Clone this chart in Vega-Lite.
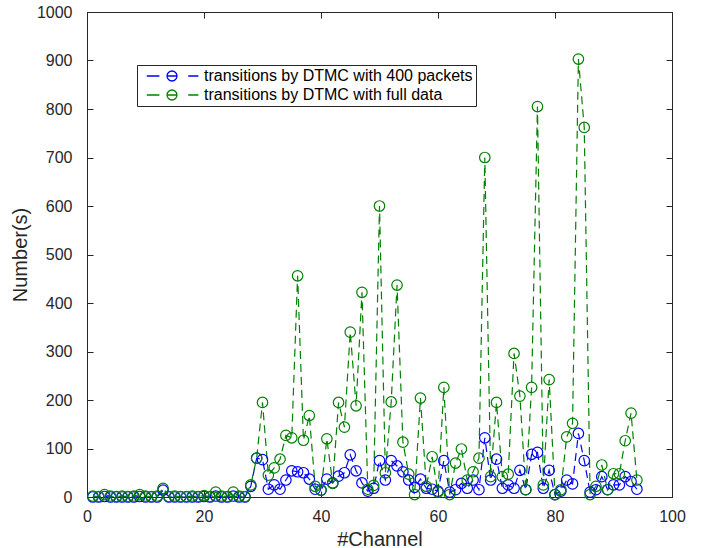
{
  "$schema": "https://vega.github.io/schema/vega-lite/v6.json",
  "autosize": "none",
  "padding": {"left": 87, "top": 12, "right": 32, "bottom": 51},
  "width": 585,
  "height": 485,
  "background": "white",
  "config": {
    "font": "Liberation Sans",
    "view": {"stroke": null},
    "axis": {
      "grid": false,
      "domainColor": "#262626",
      "domainWidth": 1,
      "tickColor": "#262626",
      "tickSize": -6,
      "tickWidth": 1,
      "labelColor": "#262626",
      "labelFontSize": 16,
      "titleColor": "#262626",
      "titleFontSize": 20,
      "titleFontWeight": "normal"
    },
    "legend": {
      "orient": "none",
      "legendX": 50,
      "legendY": 53,
      "direction": "vertical",
      "fillColor": "white",
      "strokeColor": "#262626",
      "strokeWidth": 1,
      "padding": 3,
      "rowPadding": 3,
      "symbolType": "M-4.2,0H-2.1M2.7,0H4.4M-0.83,0H0.83M-0.83,0A0.83,0.83,0,1,1,0.83,0A0.83,0.83,0,1,1,-0.83,0",
      "symbolSize": 144,
      "symbolStrokeWidth": 1.3,
      "symbolFillColor": "transparent",
      "symbolOffset": 24,
      "labelOffset": 24,
      "labelFontSize": 16,
      "labelColor": "#000000",
      "labelLimit": 500,
      "title": null
    }
  },
  "data": {
    "values": [
      {"ch":1,"s":"transitions by DTMC with 400 packets","n":0},{"ch":2,"s":"transitions by DTMC with 400 packets","n":0},{"ch":3,"s":"transitions by DTMC with 400 packets","n":1},{"ch":4,"s":"transitions by DTMC with 400 packets","n":0},{"ch":5,"s":"transitions by DTMC with 400 packets","n":0},{"ch":6,"s":"transitions by DTMC with 400 packets","n":0},{"ch":7,"s":"transitions by DTMC with 400 packets","n":0},{"ch":8,"s":"transitions by DTMC with 400 packets","n":0},{"ch":9,"s":"transitions by DTMC with 400 packets","n":1},{"ch":10,"s":"transitions by DTMC with 400 packets","n":0},
      {"ch":11,"s":"transitions by DTMC with 400 packets","n":0},{"ch":12,"s":"transitions by DTMC with 400 packets","n":0},{"ch":13,"s":"transitions by DTMC with 400 packets","n":14},{"ch":14,"s":"transitions by DTMC with 400 packets","n":0},{"ch":15,"s":"transitions by DTMC with 400 packets","n":0},{"ch":16,"s":"transitions by DTMC with 400 packets","n":0},{"ch":17,"s":"transitions by DTMC with 400 packets","n":0},{"ch":18,"s":"transitions by DTMC with 400 packets","n":0},{"ch":19,"s":"transitions by DTMC with 400 packets","n":0},{"ch":20,"s":"transitions by DTMC with 400 packets","n":1},
      {"ch":21,"s":"transitions by DTMC with 400 packets","n":0},{"ch":22,"s":"transitions by DTMC with 400 packets","n":2},{"ch":23,"s":"transitions by DTMC with 400 packets","n":0},{"ch":24,"s":"transitions by DTMC with 400 packets","n":0},{"ch":25,"s":"transitions by DTMC with 400 packets","n":2},{"ch":26,"s":"transitions by DTMC with 400 packets","n":0},{"ch":27,"s":"transitions by DTMC with 400 packets","n":0},{"ch":28,"s":"transitions by DTMC with 400 packets","n":22},{"ch":29,"s":"transitions by DTMC with 400 packets","n":80},{"ch":30,"s":"transitions by DTMC with 400 packets","n":77},
      {"ch":31,"s":"transitions by DTMC with 400 packets","n":16},{"ch":32,"s":"transitions by DTMC with 400 packets","n":25},{"ch":33,"s":"transitions by DTMC with 400 packets","n":16},{"ch":34,"s":"transitions by DTMC with 400 packets","n":35},{"ch":35,"s":"transitions by DTMC with 400 packets","n":54},{"ch":36,"s":"transitions by DTMC with 400 packets","n":52},{"ch":37,"s":"transitions by DTMC with 400 packets","n":50},{"ch":38,"s":"transitions by DTMC with 400 packets","n":37},{"ch":39,"s":"transitions by DTMC with 400 packets","n":16},{"ch":40,"s":"transitions by DTMC with 400 packets","n":14},
      {"ch":41,"s":"transitions by DTMC with 400 packets","n":37},{"ch":42,"s":"transitions by DTMC with 400 packets","n":29},{"ch":43,"s":"transitions by DTMC with 400 packets","n":43},{"ch":44,"s":"transitions by DTMC with 400 packets","n":50},{"ch":45,"s":"transitions by DTMC with 400 packets","n":87},{"ch":46,"s":"transitions by DTMC with 400 packets","n":54},{"ch":47,"s":"transitions by DTMC with 400 packets","n":29},{"ch":48,"s":"transitions by DTMC with 400 packets","n":12},{"ch":49,"s":"transitions by DTMC with 400 packets","n":18},{"ch":50,"s":"transitions by DTMC with 400 packets","n":75},
      {"ch":51,"s":"transitions by DTMC with 400 packets","n":35},{"ch":52,"s":"transitions by DTMC with 400 packets","n":75},{"ch":53,"s":"transitions by DTMC with 400 packets","n":64},{"ch":54,"s":"transitions by DTMC with 400 packets","n":52},{"ch":55,"s":"transitions by DTMC with 400 packets","n":35},{"ch":56,"s":"transitions by DTMC with 400 packets","n":20},{"ch":57,"s":"transitions by DTMC with 400 packets","n":37},{"ch":58,"s":"transitions by DTMC with 400 packets","n":18},{"ch":59,"s":"transitions by DTMC with 400 packets","n":16},{"ch":60,"s":"transitions by DTMC with 400 packets","n":12},
      {"ch":61,"s":"transitions by DTMC with 400 packets","n":75},{"ch":62,"s":"transitions by DTMC with 400 packets","n":10},{"ch":63,"s":"transitions by DTMC with 400 packets","n":15},{"ch":64,"s":"transitions by DTMC with 400 packets","n":28},{"ch":65,"s":"transitions by DTMC with 400 packets","n":18},{"ch":66,"s":"transitions by DTMC with 400 packets","n":35},{"ch":67,"s":"transitions by DTMC with 400 packets","n":15},{"ch":68,"s":"transitions by DTMC with 400 packets","n":122},{"ch":69,"s":"transitions by DTMC with 400 packets","n":35},{"ch":70,"s":"transitions by DTMC with 400 packets","n":78},
      {"ch":71,"s":"transitions by DTMC with 400 packets","n":18},{"ch":72,"s":"transitions by DTMC with 400 packets","n":25},{"ch":73,"s":"transitions by DTMC with 400 packets","n":18},{"ch":74,"s":"transitions by DTMC with 400 packets","n":55},{"ch":75,"s":"transitions by DTMC with 400 packets","n":15},{"ch":76,"s":"transitions by DTMC with 400 packets","n":88},{"ch":77,"s":"transitions by DTMC with 400 packets","n":92},{"ch":78,"s":"transitions by DTMC with 400 packets","n":18},{"ch":79,"s":"transitions by DTMC with 400 packets","n":55},{"ch":80,"s":"transitions by DTMC with 400 packets","n":5},
      {"ch":81,"s":"transitions by DTMC with 400 packets","n":12},{"ch":82,"s":"transitions by DTMC with 400 packets","n":35},{"ch":83,"s":"transitions by DTMC with 400 packets","n":27},{"ch":84,"s":"transitions by DTMC with 400 packets","n":131},{"ch":85,"s":"transitions by DTMC with 400 packets","n":75},{"ch":86,"s":"transitions by DTMC with 400 packets","n":10},{"ch":87,"s":"transitions by DTMC with 400 packets","n":15},{"ch":88,"s":"transitions by DTMC with 400 packets","n":42},{"ch":89,"s":"transitions by DTMC with 400 packets","n":15},{"ch":90,"s":"transitions by DTMC with 400 packets","n":25},
      {"ch":91,"s":"transitions by DTMC with 400 packets","n":25},{"ch":92,"s":"transitions by DTMC with 400 packets","n":42},{"ch":93,"s":"transitions by DTMC with 400 packets","n":32},{"ch":94,"s":"transitions by DTMC with 400 packets","n":16},
      {"ch":1,"s":"transitions by DTMC with full data","n":2},{"ch":2,"s":"transitions by DTMC with full data","n":1},{"ch":3,"s":"transitions by DTMC with full data","n":5},{"ch":4,"s":"transitions by DTMC with full data","n":2},{"ch":5,"s":"transitions by DTMC with full data","n":1},{"ch":6,"s":"transitions by DTMC with full data","n":2},{"ch":7,"s":"transitions by DTMC with full data","n":1},{"ch":8,"s":"transitions by DTMC with full data","n":2},{"ch":9,"s":"transitions by DTMC with full data","n":5},{"ch":10,"s":"transitions by DTMC with full data","n":2},
      {"ch":11,"s":"transitions by DTMC with full data","n":1},{"ch":12,"s":"transitions by DTMC with full data","n":2},{"ch":13,"s":"transitions by DTMC with full data","n":18},{"ch":14,"s":"transitions by DTMC with full data","n":1},{"ch":15,"s":"transitions by DTMC with full data","n":2},{"ch":16,"s":"transitions by DTMC with full data","n":1},{"ch":17,"s":"transitions by DTMC with full data","n":1},{"ch":18,"s":"transitions by DTMC with full data","n":2},{"ch":19,"s":"transitions by DTMC with full data","n":1},{"ch":20,"s":"transitions by DTMC with full data","n":3},
      {"ch":21,"s":"transitions by DTMC with full data","n":1},{"ch":22,"s":"transitions by DTMC with full data","n":10},{"ch":23,"s":"transitions by DTMC with full data","n":2},{"ch":24,"s":"transitions by DTMC with full data","n":1},{"ch":25,"s":"transitions by DTMC with full data","n":10},{"ch":26,"s":"transitions by DTMC with full data","n":2},{"ch":27,"s":"transitions by DTMC with full data","n":1},{"ch":28,"s":"transitions by DTMC with full data","n":25},{"ch":29,"s":"transitions by DTMC with full data","n":80},{"ch":30,"s":"transitions by DTMC with full data","n":195},
      {"ch":31,"s":"transitions by DTMC with full data","n":45},{"ch":32,"s":"transitions by DTMC with full data","n":60},{"ch":33,"s":"transitions by DTMC with full data","n":78},{"ch":34,"s":"transitions by DTMC with full data","n":127},{"ch":35,"s":"transitions by DTMC with full data","n":122},{"ch":36,"s":"transitions by DTMC with full data","n":456},{"ch":37,"s":"transitions by DTMC with full data","n":117},{"ch":38,"s":"transitions by DTMC with full data","n":168},{"ch":39,"s":"transitions by DTMC with full data","n":22},{"ch":40,"s":"transitions by DTMC with full data","n":14},
      {"ch":41,"s":"transitions by DTMC with full data","n":120},{"ch":42,"s":"transitions by DTMC with full data","n":28},{"ch":43,"s":"transitions by DTMC with full data","n":195},{"ch":44,"s":"transitions by DTMC with full data","n":144},{"ch":45,"s":"transitions by DTMC with full data","n":340},{"ch":46,"s":"transitions by DTMC with full data","n":188},{"ch":47,"s":"transitions by DTMC with full data","n":422},{"ch":48,"s":"transitions by DTMC with full data","n":16},{"ch":49,"s":"transitions by DTMC with full data","n":24},{"ch":50,"s":"transitions by DTMC with full data","n":600},
      {"ch":51,"s":"transitions by DTMC with full data","n":50},{"ch":52,"s":"transitions by DTMC with full data","n":196},{"ch":53,"s":"transitions by DTMC with full data","n":437},{"ch":54,"s":"transitions by DTMC with full data","n":113},{"ch":55,"s":"transitions by DTMC with full data","n":47},{"ch":56,"s":"transitions by DTMC with full data","n":5},{"ch":57,"s":"transitions by DTMC with full data","n":204},{"ch":58,"s":"transitions by DTMC with full data","n":22},{"ch":59,"s":"transitions by DTMC with full data","n":83},{"ch":60,"s":"transitions by DTMC with full data","n":10},
      {"ch":61,"s":"transitions by DTMC with full data","n":226},{"ch":62,"s":"transitions by DTMC with full data","n":5},{"ch":63,"s":"transitions by DTMC with full data","n":70},{"ch":64,"s":"transitions by DTMC with full data","n":99},{"ch":65,"s":"transitions by DTMC with full data","n":35},{"ch":66,"s":"transitions by DTMC with full data","n":52},{"ch":67,"s":"transitions by DTMC with full data","n":80},{"ch":68,"s":"transitions by DTMC with full data","n":700},{"ch":69,"s":"transitions by DTMC with full data","n":42},{"ch":70,"s":"transitions by DTMC with full data","n":195},
      {"ch":71,"s":"transitions by DTMC with full data","n":42},{"ch":72,"s":"transitions by DTMC with full data","n":47},{"ch":73,"s":"transitions by DTMC with full data","n":296},{"ch":74,"s":"transitions by DTMC with full data","n":208},{"ch":75,"s":"transitions by DTMC with full data","n":15},{"ch":76,"s":"transitions by DTMC with full data","n":226},{"ch":77,"s":"transitions by DTMC with full data","n":805},{"ch":78,"s":"transitions by DTMC with full data","n":25},{"ch":79,"s":"transitions by DTMC with full data","n":242},{"ch":80,"s":"transitions by DTMC with full data","n":5},
      {"ch":81,"s":"transitions by DTMC with full data","n":15},{"ch":82,"s":"transitions by DTMC with full data","n":124},{"ch":83,"s":"transitions by DTMC with full data","n":152},{"ch":84,"s":"transitions by DTMC with full data","n":903},{"ch":85,"s":"transitions by DTMC with full data","n":762},{"ch":86,"s":"transitions by DTMC with full data","n":5},{"ch":87,"s":"transitions by DTMC with full data","n":22},{"ch":88,"s":"transitions by DTMC with full data","n":66},{"ch":89,"s":"transitions by DTMC with full data","n":15},{"ch":90,"s":"transitions by DTMC with full data","n":48},
      {"ch":91,"s":"transitions by DTMC with full data","n":48},{"ch":92,"s":"transitions by DTMC with full data","n":116},{"ch":93,"s":"transitions by DTMC with full data","n":173},{"ch":94,"s":"transitions by DTMC with full data","n":35}
    ]
  },
  "resolve": {"axis": {"x": "independent", "y": "independent"}},
  "layer": [
    {
      "mark": {"type": "line", "strokeDash": [8, 5], "strokeWidth": 1.2},
      "encoding": {
        "x": {"field": "ch", "type": "quantitative", "scale": {"domain": [0, 100], "nice": false},
          "axis": {"orient": "bottom", "title": "#Channel", "values": [0, 20, 40, 60, 80, 100], "format": "d", "labelPadding": 17, "titlePadding": 5, "labelFlush": false}},
        "y": {"field": "n", "type": "quantitative", "scale": {"domain": [0, 1000], "nice": false},
          "axis": {"orient": "left", "title": "Number(s)", "values": [0, 100, 200, 300, 400, 500, 600, 700, 800, 900, 1000], "format": "d", "labelPadding": 21, "titlePadding": 6}},
        "stroke": {"field": "s", "type": "nominal",
          "scale": {"domain": ["transitions by DTMC with 400 packets", "transitions by DTMC with full data"], "range": ["#0000ff", "#008000"]}},
        "detail": {"field": "s"}
      }
    },
    {
      "mark": {"type": "point", "shape": "circle", "filled": false, "size": 110, "strokeWidth": 1.2, "opacity": 1},
      "encoding": {
        "x": {"field": "ch", "type": "quantitative",
          "axis": {"orient": "top", "title": null, "labels": false, "values": [0, 20, 40, 60, 80, 100]}},
        "y": {"field": "n", "type": "quantitative",
          "axis": {"orient": "right", "title": null, "labels": false, "values": [0, 100, 200, 300, 400, 500, 600, 700, 800, 900, 1000]}},
        "stroke": {"field": "s", "type": "nominal"}
      }
    }
  ]
}
